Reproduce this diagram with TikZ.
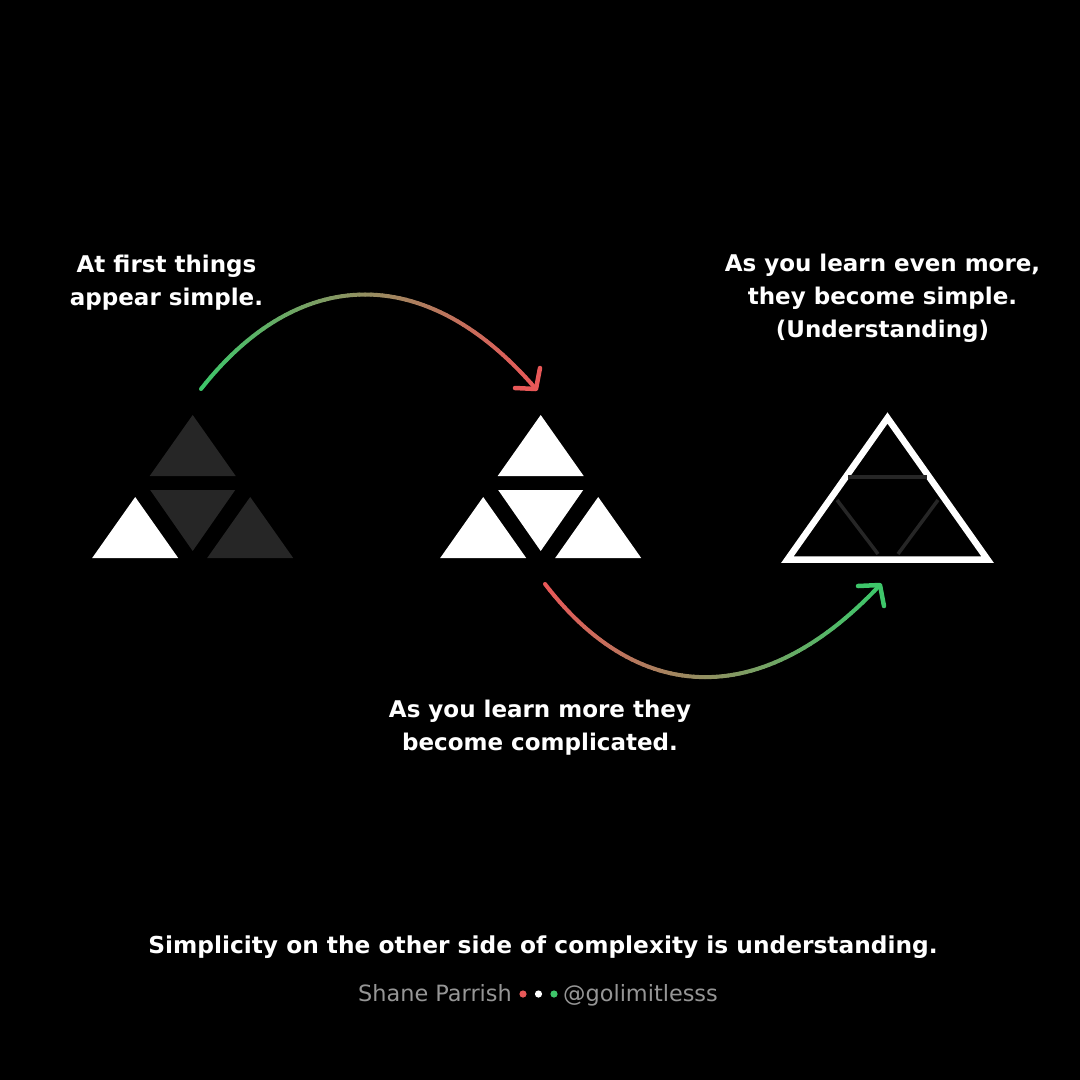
\documentclass[tikz,border=0pt]{standalone}
\usepackage{fontspec}
\setmainfont{DejaVu Sans}
\usetikzlibrary{calc}

\definecolor{arcgreen}{RGB}{62,198,106}
\definecolor{arcred}{RGB}{232,88,88}
\definecolor{tridim}{RGB}{38,38,38}
\definecolor{footgray}{RGB}{150,150,150}

\tikzset{
  caption/.style={text=white,font=\bfseries\fontsize{23}{33}\selectfont,align=center,inner sep=0pt},
  quote/.style={text=white,font=\bfseries\fontsize{23.3}{30}\selectfont,inner sep=0pt},
  credit/.style={text=footgray,font=\fontsize{22.4}{26}\selectfont,inner sep=0pt},
  arc/.style={line width=4,line cap=round},
  head/.style={line width=4.5,line cap=round,line join=round},
}

\begin{document}
\begin{tikzpicture}[x=1pt,y=-1pt]

\fill[black] (0,0) rectangle (1080,1080);
\useasboundingbox (0,0) rectangle (1080,1080);

% Triangle groups (top, middle, left, right)
\foreach \cx/\ctop/\cmid/\cleft/\cright in {192.7/tridim/tridim/white/tridim,540.7/white/white/white/white}{
  \fill[\ctop] (\cx,415) -- ++(43,61) -- ++(-86,0) -- cycle;
  \fill[\cmid] ({\cx-42.5},490) -- ++(85,0) -- ++(-42.5,61) -- cycle;
  \fill[\cleft] ({\cx-57.5},497) -- ++(43,61) -- ++(-86,0) -- cycle;
  \fill[\cright] ({\cx+57.5},497) -- ++(43,61) -- ++(-86,0) -- cycle;
}

% Outline triangle
\draw[white,line width=6.5,line join=miter] (887.5,418) -- (987.5,559.5) -- (787.5,559.5) -- cycle;
\draw[tridim,line width=3.5] (848,477) -- (927,477);
\draw[tridim,line width=3.5] (837,500) -- (878,554);
\draw[tridim,line width=3.5] (938,500) -- (898,554);

% Arrow 1
\coordinate (a1s) at (201,389);
\coordinate (a1c1) at (300,263);
\coordinate (a1c2) at (428,263);
\coordinate (a1e) at (536,389);
\coordinate (a1w1) at (540,368);
\coordinate (a1w2) at (515,388);
\path (a1s) .. controls (a1c1) and (a1c2) .. (a1e)
  foreach \k in {0,...,60} {coordinate[pos=\k/60] (a1g\k)};
\foreach \k [evaluate=\k as \n using int(\k+1), evaluate=\k as \m using 100-100*\k/59] in {0,...,59}
  \draw[arc,arcgreen!\m!arcred] (a1g\k) -- (a1g\n);
\draw[head,arcred] (a1w1) -- (a1e) -- (a1w2);

% Arrow 2
\coordinate (a2s) at (545,584);
\coordinate (a2c1) at (640,708);
\coordinate (a2c2) at (765,708);
\coordinate (a2e) at (880,585);
\coordinate (a2w1) at (858,586);
\coordinate (a2w2) at (884,606);
\path (a2s) .. controls (a2c1) and (a2c2) .. (a2e)
  foreach \k in {0,...,60} {coordinate[pos=\k/60] (a2g\k)};
\foreach \k [evaluate=\k as \n using int(\k+1), evaluate=\k as \m using 100-100*\k/59] in {0,...,59}
  \draw[arc,arcred!\m!arcgreen] (a2g\k) -- (a2g\n);
\draw[head,arcgreen] (a2w1) -- (a2e) -- (a2w2);

% Text Node
\node[caption] (first) at (166.5,282.5) {At first things\\appear simple.};
% Text Node
\node[caption] (more) at (540,728) {As you learn more they\\become complicated.};
% Text Node
\node[caption] (under) at (882.5,298.5) {As you learn even more,\\they become simple.\\(Understanding)};
% Text Node
\node[quote,anchor=base] (quote) at (543,953) {Simplicity on the other side of complexity is understanding.};
% Text Node
\node[credit,anchor=base east] (author) at (512,1001) {Shane Parrish};
\node[credit,anchor=base west] (handle) at (563,1001) {@golimitlesss};
\fill[arcred] (523,994) circle (3.6);
\fill[white] (538.5,994) circle (3.6);
\fill[arcgreen] (554,994) circle (3.6);

\end{tikzpicture}
\end{document}
